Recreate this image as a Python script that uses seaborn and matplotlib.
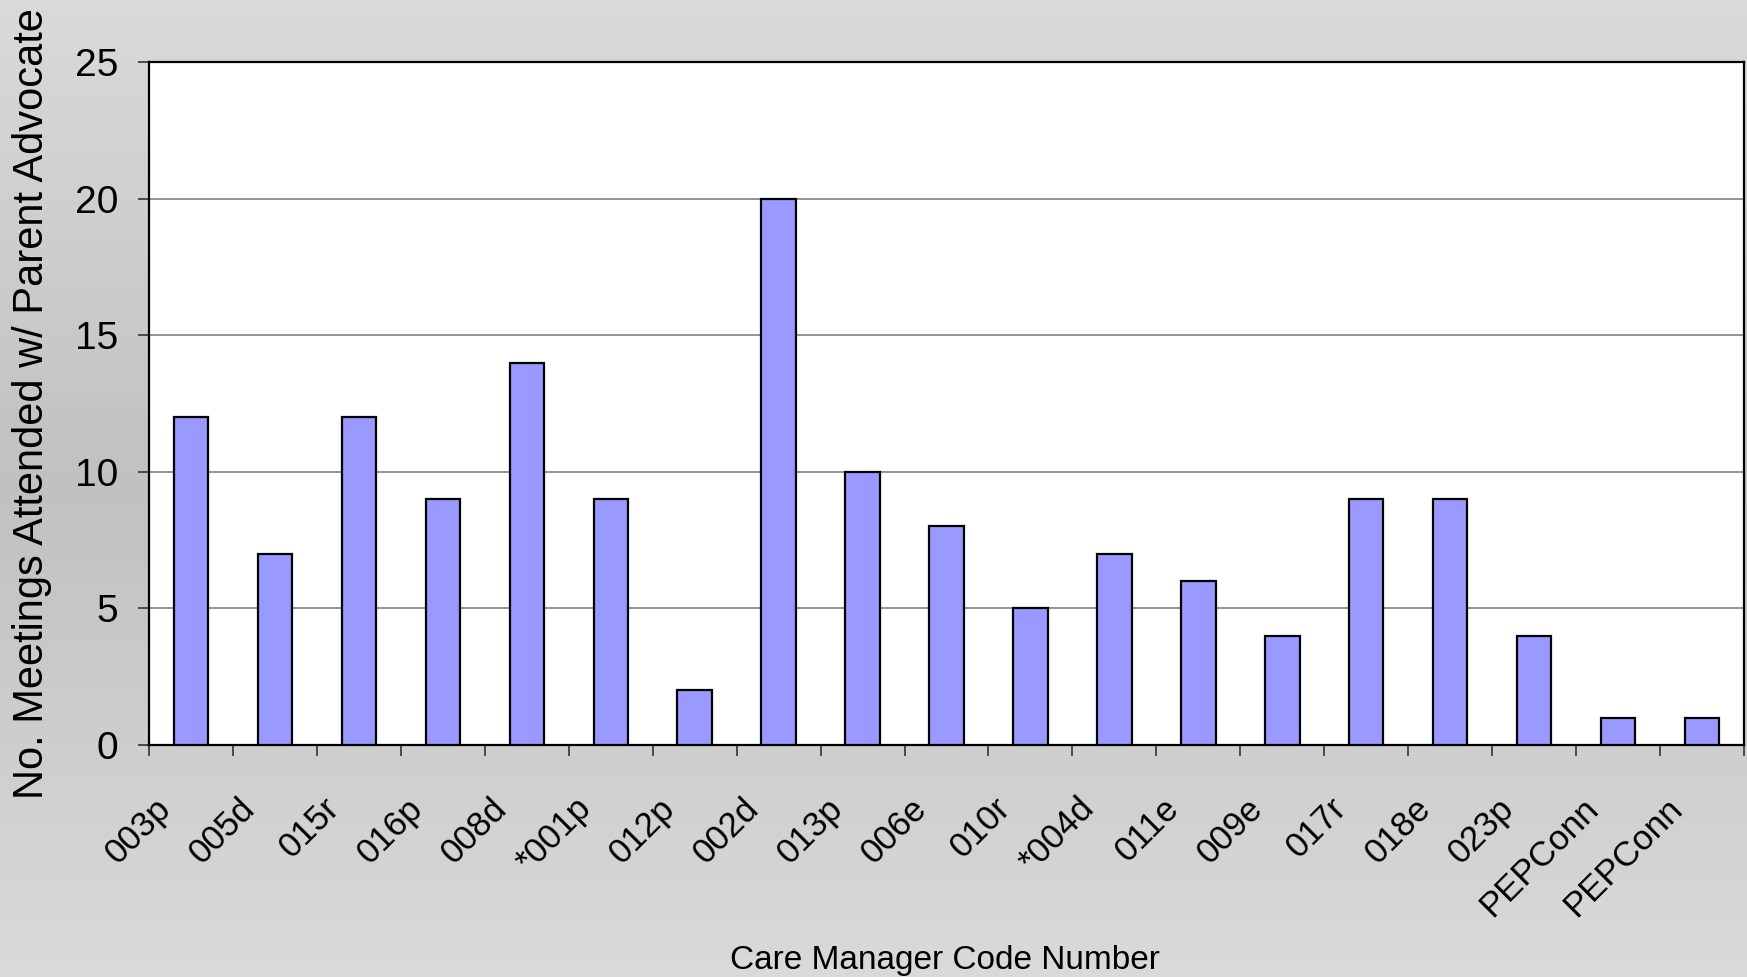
import numpy as np
import pandas as pd
import matplotlib
matplotlib.use("Agg")
import matplotlib.pyplot as plt
import matplotlib.transforms as mtransforms
import seaborn as sns

# Data
codes = ["003p", "005d", "015r", "016p", "008d", "*001p", "012p", "002d", "013p",
         "006e", "010r", "*004d", "011e", "009e", "017r", "018e", "023p",
         "PEPConn", "PEPConn"]
meetings = [12, 7, 12, 9, 14, 9, 2, 20, 10, 8, 5, 7, 6, 4, 9, 9, 4, 1, 1]
y_ticks = [0, 5, 10, 15, 20, 25]

df = pd.DataFrame({"pos": range(len(codes)), "code": codes, "meetings": meetings})

sns.set_style("white")
plt.rcParams["font.family"] = ["Liberation Sans", "DejaVu Sans"]
plt.rcParams["text.color"] = "black"
plt.rcParams["axes.labelcolor"] = "black"
plt.rcParams["xtick.color"] = "black"
plt.rcParams["ytick.color"] = "black"

fig = plt.figure(figsize=(17.47, 9.77), dpi=100)

# gray gradient background (light top/bottom, darker in the middle)
bg = fig.add_axes([0, 0, 1, 1], zorder=-10)
grad = np.concatenate([np.linspace(0.85, 0.755, 50), np.linspace(0.755, 0.85, 50)])
bg.imshow(grad[:, None], cmap="gray", vmin=0, vmax=1, aspect="auto", extent=[0, 1, 0, 1])
bg.set_axis_off()

ax = fig.add_axes([0.0853, 0.2375, 0.913, 0.699])
ax.set_facecolor("white")
sns.barplot(data=df, x="pos", y="meetings", color="#9999ff", saturation=1,
            edgecolor="black", linewidth=1.6, width=0.41, ax=ax, zorder=3)

ax.set_xlim(-0.5, len(codes) - 0.5)
ax.set_ylim(0, 25)
ax.set_yticks(y_ticks)
ax.yaxis.grid(True, color="#777777", linewidth=1.1, zorder=0)
ax.set_axisbelow(True)

# category labels sit between the boundary ticks, rotated like Excel
ax.set_xticks(range(len(codes)))
ax.set_xticklabels(codes, rotation=45, ha="right", va="center",
                   rotation_mode="anchor", fontsize=25)
ax.tick_params(axis="x", which="major", length=0, pad=42, bottom=False)
shift = mtransforms.ScaledTranslation(-25 / 100, 0, fig.dpi_scale_trans)
for lbl in ax.get_xticklabels():
    lbl.set_transform(lbl.get_transform() + shift)
ax.set_xticks(np.arange(-0.5, len(codes), 1), minor=True)
ax.tick_params(axis="x", which="minor", length=8, width=1.2, color="#333333",
               direction="out", bottom=True)
ax.tick_params(axis="y", length=8, width=1.2, color="#333333", direction="out",
               labelsize=28, pad=14, left=True)

for s in ax.spines.values():
    s.set_visible(True)
    s.set_color("black")
    s.set_linewidth(1.6)

ax.set_ylabel("No. Meetings Attended w/ Parent Advocate", fontsize=30)
ax.yaxis.set_label_coords(-0.061, 0.5)
ax.set_xlabel("")
fig.text(0.541, 1 - 961 / 977, "Care Manager Code Number", fontsize=24,
         ha="center", va="center")

plt.savefig("out.png", dpi=100)
